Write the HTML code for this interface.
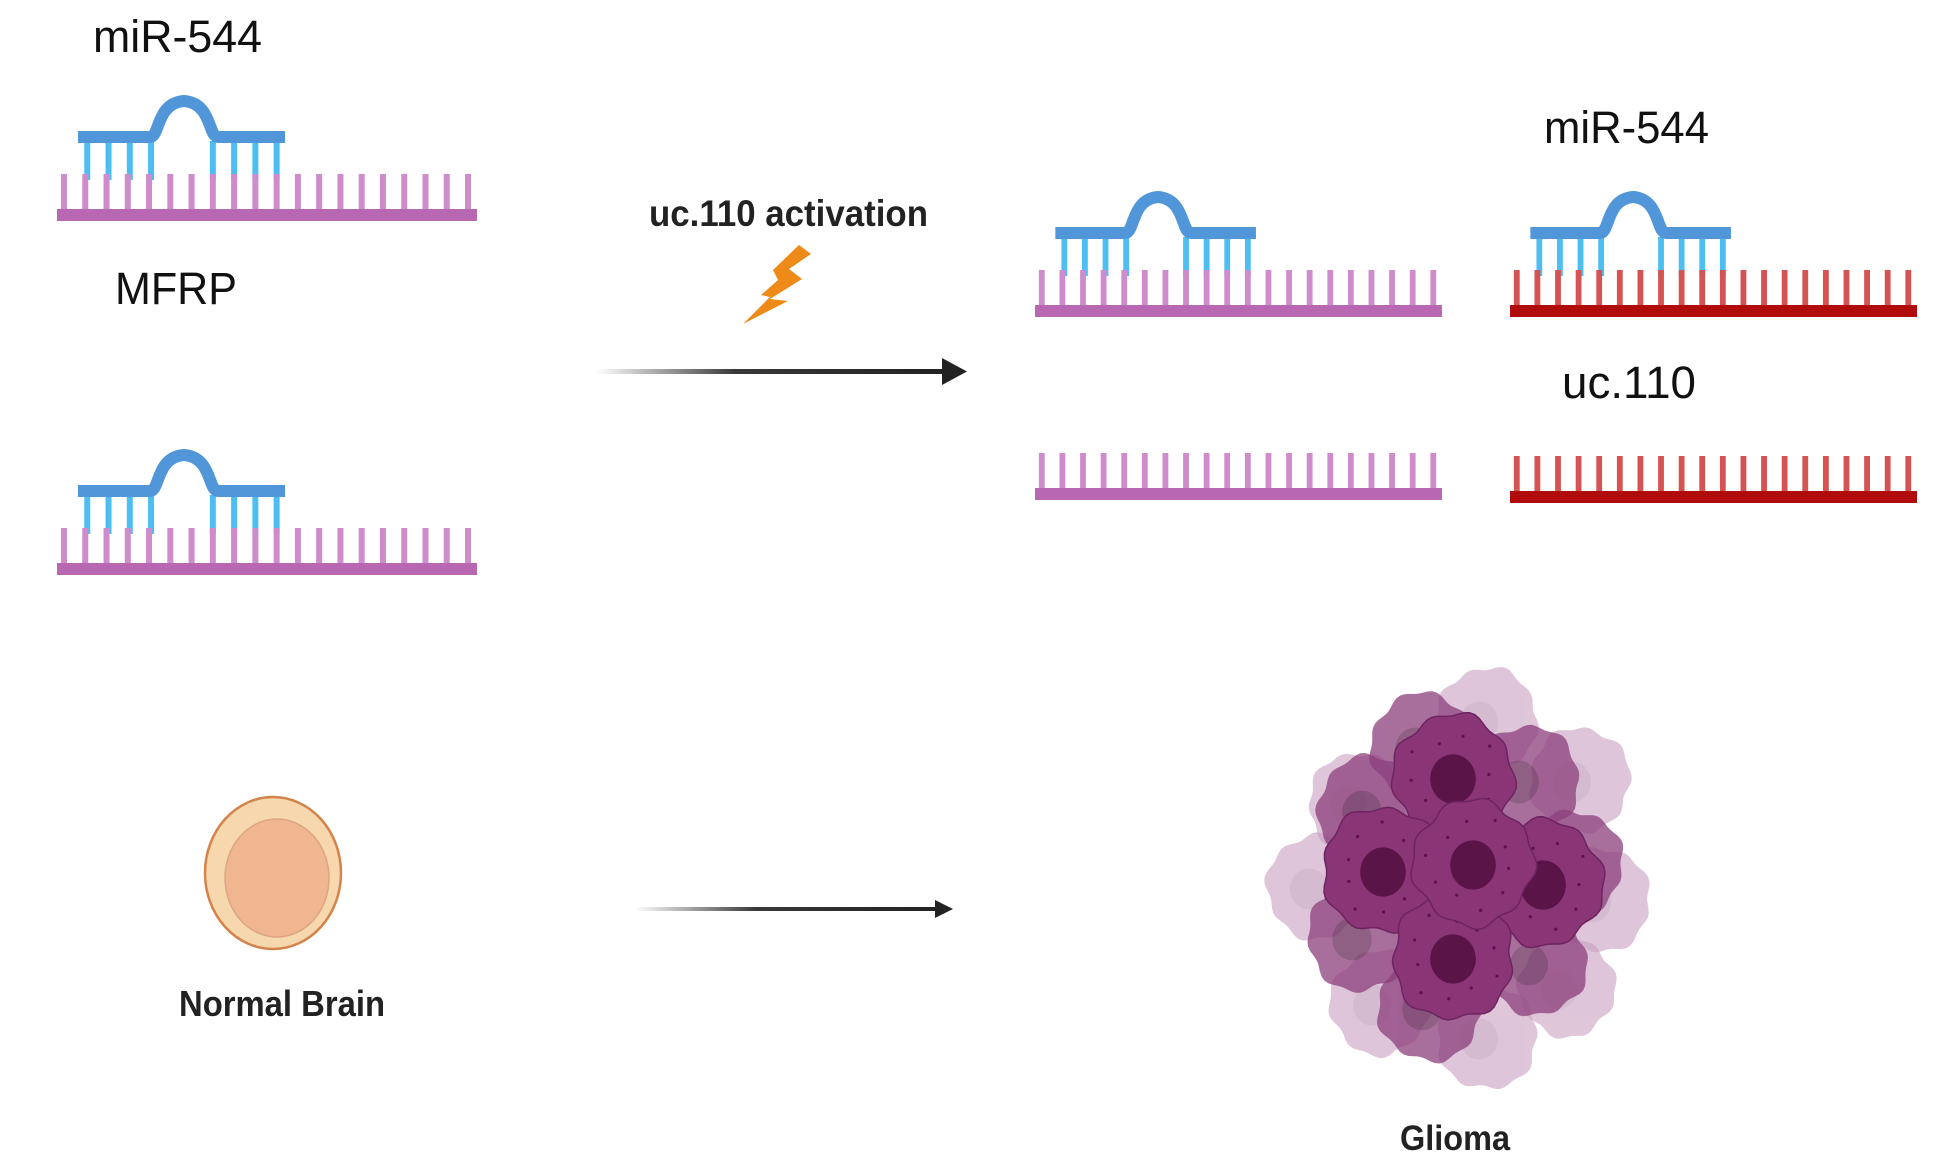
<!DOCTYPE html>
<html><head><meta charset="utf-8"><title>uc.110 / miR-544 / MFRP schematic</title>
<style>
html,body{margin:0;padding:0;background:#fff;}
svg{display:block;}
text{font-family:"Liberation Sans",sans-serif;}
</style></head>
<body>
<svg id="fig" width="1935" height="1173" viewBox="0 0 1935 1173" xmlns="http://www.w3.org/2000/svg">
<defs>
<linearGradient id="arrowGrad1" x1="0" x2="1" y1="0" y2="0">
<stop offset="0" stop-color="#222" stop-opacity="0"/>
<stop offset="0.4" stop-color="#222" stop-opacity="0.9"/>
<stop offset="1" stop-color="#222"/>
</linearGradient>
</defs>
<g id="strands"></g>

<text x="93" y="52" font-size="45" textLength="169" lengthAdjust="spacingAndGlyphs" fill="#111">miR-544</text>
<text x="115" y="304" font-size="45" textLength="122" lengthAdjust="spacingAndGlyphs" fill="#111">MFRP</text>
<text x="649" y="226" font-size="37" font-weight="bold" textLength="279" lengthAdjust="spacingAndGlyphs" fill="#222">uc.110 activation</text>
<text x="1544" y="143" font-size="45" textLength="165" lengthAdjust="spacingAndGlyphs" fill="#111">miR-544</text>
<text x="1562" y="398" font-size="45" textLength="134" lengthAdjust="spacingAndGlyphs" fill="#111">uc.110</text>
<text x="179" y="1016" font-size="36" font-weight="bold" textLength="206" lengthAdjust="spacingAndGlyphs" fill="#222">Normal Brain</text>
<text x="1400" y="1150" font-size="35" font-weight="bold" textLength="110" lengthAdjust="spacingAndGlyphs" fill="#222">Glioma</text>

<polygon fill="#ee8a17" points="799,245 811,254 789,269 802,279 770,299 788,301 743,324 770,297 761,295 778,280 773,270"/>

<g>
<rect x="596" y="369" width="350" height="5" fill="url(#arrowGrad1)"/>
<polygon points="942,358 967,371.5 942,385" fill="#222"/>
</g>
<g>
<rect x="635" y="907" width="303" height="4" fill="url(#arrowGrad1)"/>
<polygon points="935,900 953,909 935,918" fill="#222"/>
</g>

<g>
<ellipse cx="273" cy="873" rx="68" ry="76" fill="#f7d7ae" stroke="#d4834a" stroke-width="2.5"/>
<ellipse cx="277" cy="878" rx="52" ry="59" fill="#f0b690" stroke="#dda583" stroke-width="1.5"/>
</g>

<g id="glioma"></g>
</svg>
<script>
// strand layout: x start, base top y, width, tooth count, has bound miRNA
var strandX = [57, 57, 1035, 1510, 1035, 1510];
var strandY = [209, 563, 305, 305, 488, 491];
var strandW = [420, 420, 407, 407, 407, 407];
var strandTeeth = [20, 20, 20, 20, 20, 20];
var strandBound = [1, 1, 1, 1, 0, 0];
var strandColor = ['#b868b2', '#b868b2', '#b868b2', '#b00c0c', '#b868b2', '#b00c0c'];
var toothColor = ['#cf8ccc', '#cf8ccc', '#cf8ccc', '#d65353', '#cf8ccc', '#d65353'];

// glioma cells: cx, cy, r, layer (0 light,1 medium,2 dark)
var cellX = [1487, 1580, 1317, 1600, 1380, 1487, 1567, 1357, 1423, 1527, 1370, 1360, 1430, 1537, 1573, 1453, 1383, 1543, 1453, 1473];
var cellY = [720, 780, 887, 900, 1003, 1037, 987, 803, 747, 780, 810, 937, 1007, 963, 863, 777, 870, 883, 957, 863];
var cellR = [50, 50, 50, 50, 50, 50, 48, 48, 52, 52, 52, 52, 52, 50, 50, 60, 60, 60, 60, 60];
var cellLayer = [0, 0, 0, 0, 0, 0, 0, 0, 1, 1, 1, 1, 1, 1, 1, 2, 2, 2, 2, 2];

var NS = 'http://www.w3.org/2000/svg';
function mk(tag, attrs, parent) {
  var e = document.createElementNS(NS, tag);
  for (var k in attrs) e.setAttribute(k, attrs[k]);
  parent.appendChild(e);
  return e;
}

var sg = document.getElementById('strands');
for (var i = 0; i < strandX.length; i++) {
  var g = mk('g', {}, sg);
  
  
  var x0 = strandX[i], y0 = strandY[i], w = strandW[i], n = strandTeeth[i];
  var s = w / 420;
  var tx0 = x0 + 7 * s, tx1 = x0 + w - 9 * s;
  var sp = (tx1 - tx0) / (n - 1);
  var tw = 6 * s;
  if (strandBound[i]) {
    var bg = mk('g', {}, g);
    
    
    var bl = x0 + 21 * s, br = x0 + 228 * s, by = y0 - 78;
    var idx = [1, 2, 3, 4, 7, 8, 9, 10];
    for (var j = 0; j < idx.length; j++) {
      var bx = tx0 + idx[j] * sp + (idx[j] < 5 ? 2 * s : 0);
      mk('rect', {x: bx - tw / 2, y: by + 10, width: tw, height: 39, fill: '#4dbef2'}, bg);
    }
    var ac = x0 + 127 * s, ah = 30 * s;
    mk('path', {d: 'M' + bl + ' ' + (by + 6) + ' L' + (ac - ah - 4) + ' ' + (by + 6) +
      ' C' + (ac - ah + 6) + ' ' + (by + 6) + ',' + (ac - ah + 2) + ' ' + (by - 28) + ',' + ac + ' ' + (by - 30) +
      ' C' + (ac + ah - 2) + ' ' + (by - 28) + ',' + (ac + ah - 6) + ' ' + (by + 6) + ',' + (ac + ah + 4) + ' ' + (by + 6) +
      ' L' + br + ' ' + (by + 6),
      fill: 'none', stroke: '#5096d8', 'stroke-width': 12}, bg);
  }
  for (var t = 0; t < n; t++) {
    var tx = tx0 + t * sp;
    mk('rect', {x: tx - tw / 2, y: y0 - 35, width: tw, height: 36, fill: toothColor[i]}, g);
  }
  mk('rect', {x: x0, y: y0, width: w, height: 12, fill: strandColor[i]}, g);
}

function wavy(cx, cy, r, seed) {
  var d = '', N = 72;
  for (var k = 0; k <= N; k++) {
    var a = k / N * Math.PI * 2;
    var rr = r * (1 + 0.04 * Math.sin(a * 9 + seed) + 0.03 * Math.sin(a * 4 + seed * 2));
    var px = cx + rr * Math.cos(a), py = cy + rr * Math.sin(a) * 1.04;
    d += (k ? 'L' : 'M') + px.toFixed(1) + ' ' + py.toFixed(1);
  }
  return d + 'Z';
}

var gg = document.getElementById('glioma');
var fills = ['#c9a0c0', '#8c3f7c', '#8a3575'];
var ops = [0.6, 0.75, 1];
var nucs = ['#b88fb0', '#6a2c5c', '#5a1447'];
for (var L = 0; L < 3; L++) {
  for (var c = 0; c < cellX.length; c++) {
    if (cellLayer[c] !== L) continue;
    var cg = mk('g', {opacity: ops[L]}, gg);
    
    
    mk('path', {d: wavy(cellX[c], cellY[c], cellR[c], c * 1.7), fill: fills[L], stroke: L === 2 ? '#6e2460' : 'none', 'stroke-width': 1.5}, cg);
    var nr = cellR[c] * 0.38;
    mk('ellipse', {cx: cellX[c] + (L === 2 ? 0 : -8), cy: cellY[c] + 2, rx: nr, ry: nr * 1.08, fill: nucs[L]}, cg);
    if (L === 2) {
      for (var q = 0; q < 10; q++) {
        var aa = q * 0.63 + c, rd = cellR[c] * (0.6 + 0.1 * (q % 3));
        mk('circle', {cx: cellX[c] + rd * Math.cos(aa), cy: cellY[c] + rd * Math.sin(aa), r: 1.6, fill: '#5a1447'}, cg);
      }
    }
  }
}
</script>
</body></html>
